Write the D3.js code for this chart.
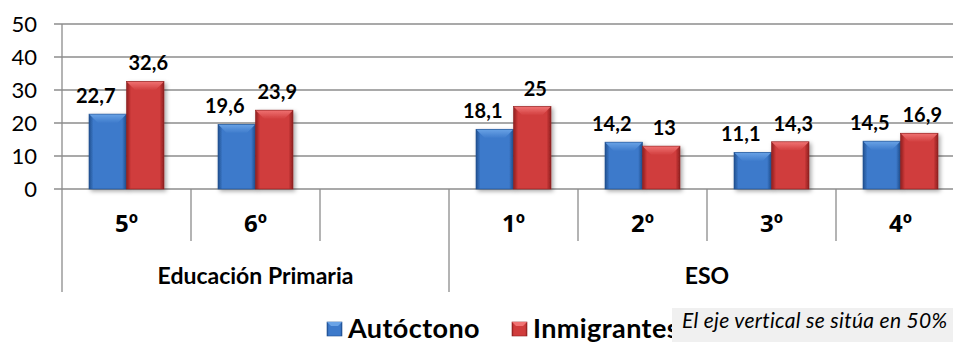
<!DOCTYPE html>
<html lang="es">
<head>
<meta charset="UTF-8">
<title>Autóctono / Inmigrante</title>
<style>
  body { margin: 0; background: #fff; }
  svg { display: block; font-family: Lato, "Open Sans", sans-serif; }
</style>
</head>
<body>
<svg id="chart" width="953" height="342"></svg>
<script src="https://cdn.jsdelivr.net/npm/d3@7"></script>
<script>
// data
var categories = ["5º", "6º", "", "1º", "2º", "3º", "4º"];
var groups = ["Educación Primaria", "ESO"];
var groupSizes = [3, 4];
var seriesNames = ["Autóctono", "Inmigrantes"];
var autoctono = [22.7, 19.6, null, 18.1, 14.2, 11.1, 14.5];
var inmigrante = [32.6, 23.9, null, 25, 13, 14.3, 16.9];
var yTicks = [0, 10, 20, 30, 40, 50];
var note = "El eje vertical se sitúa en 50%";

(function () {
var svg = d3.select("#chart"),
    plotL = 62, plotT = 24, base = 189, slotW = 129;

var x0 = d3.scaleBand().domain(d3.range(categories.length))
    .range([plotL, plotL + slotW * categories.length]);
var x1 = d3.scaleBand().domain([0, 1]).range([0, x0.bandwidth()]).paddingOuter(0.72);
var y = d3.scaleLinear().domain([0, 50]).range([base, plotT]);

var colors = [
  {dark: "#1f4f8f", mid: "#3d7acb", light: "#6aa3e6", name: "b"},
  {dark: "#8e1f1f", mid: "#d03c3c", light: "#f07373", name: "r"}
];

var defs = svg.append("defs");
colors.forEach(function (c) {
  var g = defs.append("linearGradient").attr("id", "side-" + c.name)
    .attr("x1", 0).attr("x2", 1).attr("y1", 0).attr("y2", 0);
  g.append("stop").attr("offset", "0").attr("stop-color", c.dark);
  g.append("stop").attr("offset", "0.12").attr("stop-color", c.mid);
  g.append("stop").attr("offset", "0.88").attr("stop-color", c.mid);
  g.append("stop").attr("offset", "1").attr("stop-color", c.dark);
  var t = defs.append("linearGradient").attr("id", "top-" + c.name)
    .attr("x1", 0).attr("x2", 0).attr("y1", 0).attr("y2", 1);
  t.append("stop").attr("offset", "0").attr("stop-color", c.light);
  t.append("stop").attr("offset", "1").attr("stop-color", c.mid);
});
var sh = defs.append("filter").attr("id", "shadow")
  .attr("x", "-20%").attr("y", "-20%").attr("width", "150%").attr("height", "150%");
sh.append("feDropShadow").attr("dx", 2).attr("dy", 2).attr("stdDeviation", 2)
  .attr("flood-color", "#000").attr("flood-opacity", 0.35);

// gridlines + y labels
svg.append("g").selectAll("line").data(yTicks).join("line")
  .attr("x1", 54).attr("x2", 953)
  .attr("y1", function (d) { return y(d); }).attr("y2", function (d) { return y(d); })
  .attr("stroke", "#8c8c8c").attr("stroke-width", 1.3);
svg.append("g").selectAll("text").data(yTicks).join("text")
  .attr("x", 37).attr("y", function (d) { return y(d) + 8; })
  .attr("text-anchor", "end").attr("font-size", 22).attr("fill", "#000")
  .text(function (d) { return d; });

// vertical axis and category separators
svg.append("line").attr("x1", plotL).attr("x2", plotL).attr("y1", plotT).attr("y2", 292)
  .attr("stroke", "#8c8c8c").attr("stroke-width", 1.3);
var groupEdges = d3.cumsum(groupSizes);
svg.append("g").selectAll("line").data(d3.range(1, categories.length + 1)).join("line")
  .attr("x1", function (i) { return x0(i - 1) + x0.bandwidth(); })
  .attr("x2", function (i) { return x0(i - 1) + x0.bandwidth(); })
  .attr("y1", base)
  .attr("y2", function (i) { return groupEdges.indexOf(i) >= 0 ? 292 : 241; })
  .attr("stroke", "#8c8c8c").attr("stroke-width", 1.3);

svg.append("g").selectAll("text").data(categories).join("text")
  .attr("x", function (d, i) { return x0(i) + x0.bandwidth() / 2; })
  .attr("y", 232).attr("text-anchor", "middle")
  .attr("font-family", "'Open Sans', sans-serif")
  .attr("font-size", 24).attr("font-weight", "bold")
  .text(function (d) { return d; });

svg.append("g").selectAll("text").data(groups).join("text")
  .attr("x", function (d, i) {
    var s = i ? groupEdges[i - 1] : 0;
    return (x0(s) + x0(groupEdges[i] - 1) + x0.bandwidth()) / 2;
  })
  .attr("y", 284).attr("text-anchor", "middle")
  .attr("font-size", 23).attr("font-weight", "bold")
  .text(function (d) { return d; });

// bars
var series = [autoctono, inmigrante];
var labelShift = [-12, 3];
series.forEach(function (vals, s) {
  var c = colors[s];
  var pts = vals.map(function (v, i) { return {v: v, i: i}; })
    .filter(function (d) { return d.v != null; });
  var g = svg.append("g");
  pts.forEach(function (d) {
    var bx = x0(d.i) + x1(s), bw = x1.bandwidth(), by = y(d.v), bh = base - by;
    var bar = g.append("g").attr("filter", "url(#shadow)");
    bar.append("rect").attr("x", bx).attr("y", by).attr("width", bw).attr("height", bh)
      .attr("fill", "url(#side-" + c.name + ")");
    var bev = Math.min(9, bh / 2);
    bar.append("polygon")
      .attr("points", [[bx, by], [bx + bw, by], [bx + bw - bev, by + bev], [bx + bev, by + bev]].join(" "))
      .attr("fill", "url(#top-" + c.name + ")");
    bar.append("rect").attr("x", bx).attr("y", by).attr("width", bw).attr("height", bh)
      .attr("fill", "none").attr("stroke", c.dark).attr("stroke-width", 0.6);
  });
  svg.append("g").selectAll("text").data(pts).join("text")
    .attr("x", function (d) { return x0(d.i) + x1(s) + x1.bandwidth() / 2 + labelShift[s]; })
    .attr("y", function (d) { return y(d.v) - 11; })
    .attr("text-anchor", "middle").attr("font-size", 20).attr("font-weight", "bold")
    .text(function (d) { return String(d.v).replace(".", ","); });
});

// legend
var legX = [327, 512];
seriesNames.forEach(function (n, s) {
  var c = colors[s];
  var lg = svg.append("g");
  lg.append("rect").attr("x", legX[s]).attr("y", 322).attr("width", 15).attr("height", 14)
    .attr("fill", "url(#side-" + c.name + ")").attr("stroke", c.dark).attr("stroke-width", 0.6);
  lg.append("polygon")
    .attr("points", [[legX[s], 322], [legX[s] + 15, 322], [legX[s] + 11, 326], [legX[s] + 4, 326]].join(" "))
    .attr("fill", c.light);
  lg.append("text").attr("x", legX[s] + 21).attr("y", 338)
    .attr("font-size", 27).attr("font-weight", "bold").attr("letter-spacing", 0.4).text(n);
});

// note box covering legend end
svg.append("rect").attr("x", 672).attr("y", 308).attr("width", 290).attr("height", 40)
  .attr("fill", "#f0f0f0");
svg.append("text").attr("x", 682).attr("y", 328)
  .attr("font-size", 21).attr("font-style", "italic").attr("letter-spacing", 0.3).text(note);
})();
</script>
</body>
</html>
